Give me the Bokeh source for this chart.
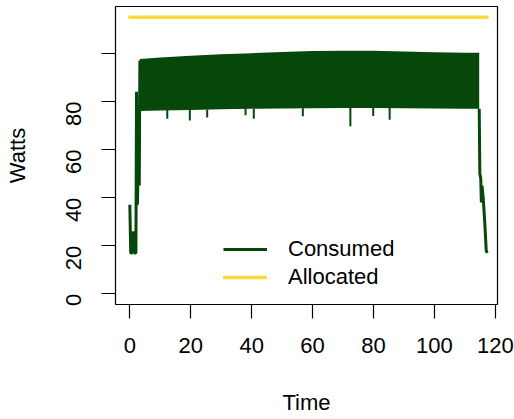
from bokeh.plotting import figure
from bokeh.models import Range1d, FixedTicker, Legend, LegendItem
from bokeh.embed import file_html
from bokeh.resources import INLINE

# ---- data ----
# ramp-up before the steady band
start_time = [0.0, 0.3, 0.8, 1.2, 1.5, 2.0, 2.2, 2.5, 2.9, 3.1, 3.3]
start_watts = [37, 17, 17, 26, 17, 17, 84, 37, 64, 45, 97]
# dense oscillating band: upper and lower envelopes
band_time = [3.3, 10, 20, 30, 40, 50, 60, 70, 80, 90, 100, 110, 114.7]
band_upper = [97.7, 98.3, 99.0, 99.6, 100.1, 100.6, 101.0, 101.1, 101.1, 100.8, 100.5, 100.3, 100.3]
band_lower = [76.0, 76.2, 76.5, 76.8, 77.0, 77.1, 77.2, 77.3, 77.3, 77.2, 77.1, 77.0, 77.0]
# downward spikes below the band
dip_time = [12.3, 19.7, 25.4, 38.0, 40.7, 56.8, 72.4, 79.9, 85.3]
dip_from = [76.4, 76.5, 76.7, 77.0, 77.0, 77.2, 77.3, 77.3, 77.3]
dip_to = [72.8, 72.1, 73.3, 74.3, 72.8, 73.8, 69.7, 74.0, 72.4]
# ramp-down at the end
end_time = [114.7, 114.9, 115.2, 115.4, 115.6, 116.0, 116.5, 117.0, 117.3]
end_watts = [77, 50, 48, 38, 45, 40, 30, 18, 17]
# allocated power
alloc_time = [0, 117.3]
alloc_watts = [115, 115]

x_ticks = [0, 20, 40, 60, 80, 100, 120]
y_ticks = [0, 20, 40, 60, 80, 100]

GREEN = "#06470A"
GOLD = "#FCDA3A"
FONT = "Liberation Sans"

p = figure(width=514, height=419, output_backend="svg", toolbar_location=None,
           x_range=Range1d(-4.7, 120.7), y_range=Range1d(-4.45, 119.5),
           min_border_left=115, min_border_right=17, min_border_top=6,
           min_border_bottom=115)
p.grid.visible = False
p.outline_line_color = "black"
p.outline_line_width = 1.2
p.background_fill_color = "white"
p.border_fill_color = "white"

p.varea(x=band_time, y1=band_lower, y2=band_upper, fill_color=GREEN)
p.segment(x0=dip_time, y0=dip_from, x1=dip_time, y1=dip_to, line_color=GREEN, line_width=2)
r_start = p.line(start_time, start_watts, line_color=GREEN, line_width=3)
p.line(end_time, end_watts, line_color=GREEN, line_width=3)
r_alloc = p.line(alloc_time, alloc_watts, line_color=GOLD, line_width=3.5, line_cap="round")

for ax in (p.xaxis[0], p.yaxis[0]):
    ax.axis_line_color = None
    ax.minor_tick_line_color = None
    ax.major_tick_in = 0
    ax.major_tick_out = 14
    ax.major_tick_line_color = "black"
    ax.major_tick_line_width = 1.2
    ax.major_label_text_font = FONT
    ax.major_label_text_font_size = "22px"
    ax.major_label_text_color = "black"
    ax.axis_label_text_font = FONT
    ax.axis_label_text_font_size = "22px"
    ax.axis_label_text_font_style = "normal"
    ax.axis_label_text_color = "black"

p.xaxis[0].ticker = FixedTicker(ticks=x_ticks)
p.xaxis[0].major_label_standoff = 19
p.xaxis[0].axis_label = "Time"
p.xaxis[0].axis_label_standoff = 34

p.yaxis[0].ticker = FixedTicker(ticks=y_ticks)
p.yaxis[0].major_label_overrides = {100: ""}
p.yaxis[0].major_label_orientation = 1.5708
p.yaxis[0].major_label_standoff = 28
p.yaxis[0].axis_label = "Watts"
p.yaxis[0].axis_label_standoff = 26

legend = Legend(items=[LegendItem(label="Consumed", renderers=[r_start]),
                       LegendItem(label="Allocated", renderers=[r_alloc])],
                location=(108, 13), border_line_color=None, background_fill_alpha=0,
                label_text_font=FONT, label_text_font_size="22px", label_text_color="black",
                glyph_width=44, glyph_height=28, label_height=28, label_standoff=21,
                spacing=0, padding=0, margin=0)
p.add_layout(legend, "center")

open("out.html", "w").write(file_html(p, INLINE))
